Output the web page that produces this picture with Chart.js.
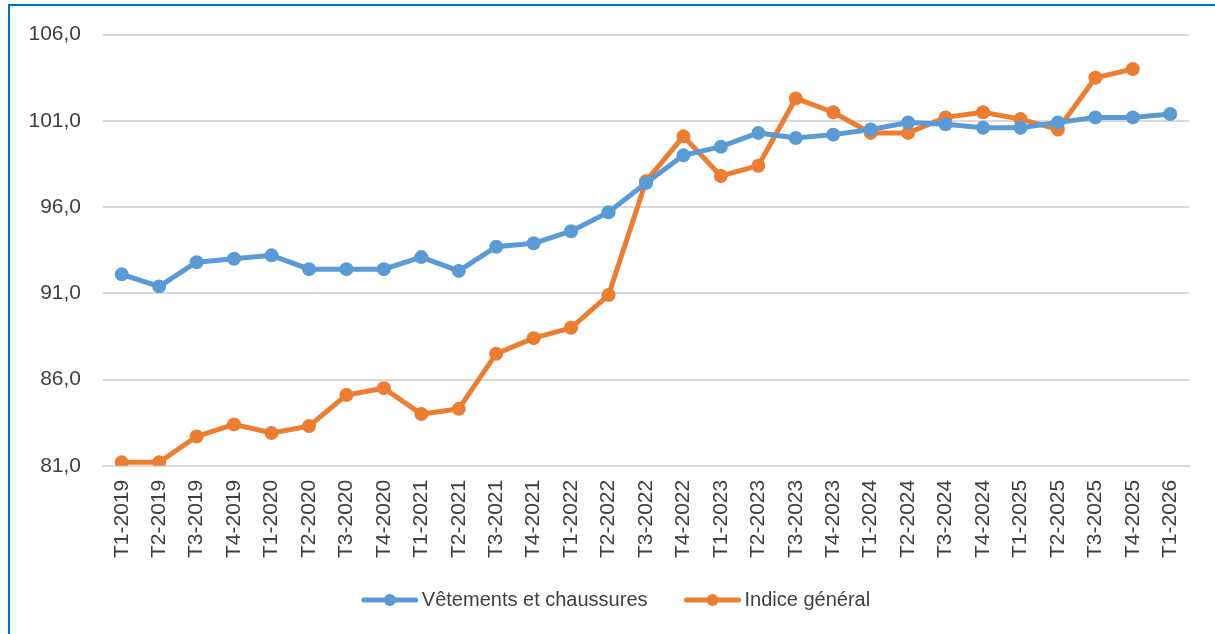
<!DOCTYPE html>
<html>
<head>
<meta charset="utf-8">
<script src="https://cdn.jsdelivr.net/npm/chart.js@4.4.1/dist/chart.umd.min.js"></script>
<style>
  html, body { margin: 0; padding: 0; background: #ffffff; }
  #wrap { position: relative; width: 1215px; height: 634px; }
  canvas { display: block; }
</style>
</head>
<body>
<div id="wrap"><canvas id="c" width="1215" height="634"></canvas></div>
<script>
const categories = [
  "T1-2019","T2-2019","T3-2019","T4-2019",
  "T1-2020","T2-2020","T3-2020","T4-2020",
  "T1-2021","T2-2021","T3-2021","T4-2021",
  "T1-2022","T2-2022","T3-2022","T4-2022",
  "T1-2023","T2-2023","T3-2023","T4-2023",
  "T1-2024","T2-2024","T3-2024","T4-2024",
  "T1-2025","T2-2025","T3-2025","T4-2025",
  "T1-2026"
];
const vetementsChaussures = [
  92.1, 91.4, 92.8, 93.0,
  93.2, 92.4, 92.4, 92.4,
  93.1, 92.3, 93.7, 93.9,
  94.6, 95.7, 97.4, 99.0,
  99.5, 100.3, 100.0, 100.2,
  100.5, 100.9, 100.8, 100.6,
  100.6, 100.9, 101.2, 101.2,
  101.4
];
const indiceGeneral = [
  81.2, 81.2, 82.7, 83.4,
  82.9, 83.3, 85.1, 85.5,
  84.0, 84.3, 87.5, 88.4,
  89.0, 90.9, 97.5, 100.1,
  97.8, 98.4, 102.3, 101.5,
  100.3, 100.3, 101.2, 101.5,
  101.1, 100.5, 103.5, 104.0,
  null
];
const yTicks = { min: 81, max: 106, step: 5 };
const seriesNames = ["Vêtements et chaussures", "Indice général"];

const BLUE = "#5B9BD5";
const ORANGE = "#ED7D31";
const TEXT = "#404040";
const FONT = "'Liberation Sans', Arial, sans-serif";

const framePlugin = {
  id: "frame",
  afterDraw(chart) {
    const ctx = chart.ctx;
    ctx.save();
    ctx.strokeStyle = "#0070C0";
    ctx.lineWidth = 2;
    ctx.beginPath();
    ctx.moveTo(9, 634);
    ctx.lineTo(9, 5);
    ctx.lineTo(1215, 5);
    ctx.stroke();
    ctx.restore();
  }
};

const legendPlugin = {
  id: "customLegend",
  afterDraw(chart) {
    const ctx = chart.ctx;
    ctx.save();
    ctx.font = "20px " + FONT;
    const lineLen = 56, gapText = 4, gapItem = 37;
    const items = chart.data.datasets.map(ds => ({
      label: ds.label, color: ds.borderColor,
      w: lineLen + gapText + ctx.measureText(ds.label).width
    }));
    const total = items.reduce((s, it) => s + it.w, 0) + gapItem * (items.length - 1);
    let x = 616 - total / 2;
    const y = 600;
    items.forEach(it => {
      ctx.strokeStyle = it.color;
      ctx.lineWidth = 5;
      ctx.lineCap = "round";
      ctx.beginPath();
      ctx.moveTo(x + 2, y);
      ctx.lineTo(x + lineLen - 2, y);
      ctx.stroke();
      ctx.fillStyle = it.color;
      ctx.beginPath();
      ctx.arc(x + lineLen / 2, y, 6, 0, Math.PI * 2);
      ctx.fill();
      ctx.fillStyle = TEXT;
      ctx.textBaseline = "middle";
      ctx.textAlign = "left";
      ctx.fillText(it.label, x + lineLen + gapText, y);
      x += it.w + gapItem;
    });
    ctx.restore();
  }
};

new Chart(document.getElementById("c"), {
  type: "line",
  data: {
    labels: categories,
    datasets: [
      {
        label: seriesNames[0],
        data: vetementsChaussures,
        borderColor: BLUE,
        backgroundColor: BLUE,
        borderWidth: 5,
        pointRadius: 7,
        pointBorderWidth: 0,
        pointBackgroundColor: BLUE,
        tension: 0
      },
      {
        label: seriesNames[1],
        data: indiceGeneral,
        borderColor: ORANGE,
        backgroundColor: ORANGE,
        borderWidth: 5,
        pointRadius: 7,
        pointBorderWidth: 0,
        pointBackgroundColor: ORANGE,
        tension: 0,
        spanGaps: false
      }
    ]
  },
  options: {
    responsive: false,
    animation: false,
    devicePixelRatio: 1,
    layout: { padding: { left: 27, right: 26, top: 34, bottom: 62 } },
    plugins: {
      legend: { display: false },
      tooltip: { enabled: false },
      title: { display: false }
    },
    scales: {
      x: {
        offset: true,
        grid: { display: false, drawTicks: false },
        border: { display: true, color: "#D9D9D9", width: 2 },
        ticks: {
          color: TEXT,
          font: { family: FONT, size: 21 },
          minRotation: 90,
          maxRotation: 90,
          padding: 14,
          autoSkip: false
        }
      },
      y: {
        min: yTicks.min,
        max: yTicks.max,
        grid: { color: "#D9D9D9", lineWidth: 2, drawTicks: false },
        border: { display: false },
        ticks: {
          stepSize: yTicks.step,
          color: TEXT,
          font: { family: FONT, size: 21 },
          padding: 22,
          callback: v => v.toFixed(1).replace(".", ",")
        },
        afterFit(scale) { scale.width = 76; }
      }
    }
  },
  plugins: [framePlugin, legendPlugin]
});
</script>
</body>
</html>
